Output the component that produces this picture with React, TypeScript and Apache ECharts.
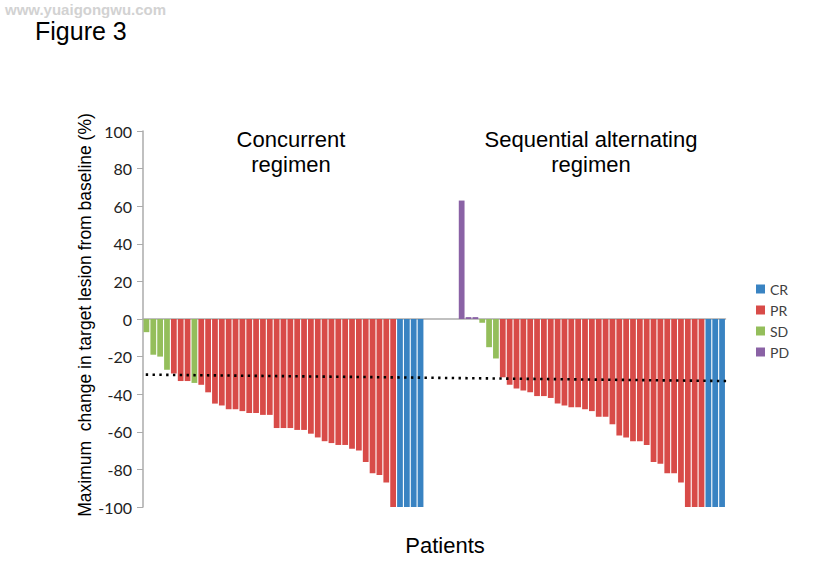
import React, { useEffect, useRef } from "react";
import * as echarts from "echarts";

// Concurrent regimen (left group)
const concurrentValues = [
  -7, -19, -20, -27, -29, -33, -33, -34, -35, -39, -45, -46, -48, -48, -49, -50, -50,
  -51, -51, -58, -58, -58, -59, -59, -61, -63, -65, -66, -67, -67, -69, -70, -76, -82,
  -83, -87, -100, -100, -100, -100, -100,
];
const concurrentResponse = [
  "SD", "SD", "SD", "SD", "PR", "PR", "PR", "SD", "PR", "PR", "PR", "PR", "PR", "PR", "PR", "PR", "PR",
  "PR", "PR", "PR", "PR", "PR", "PR", "PR", "PR", "PR", "PR", "PR", "PR", "PR", "PR", "PR", "PR", "PR",
  "PR", "PR", "PR", "CR", "CR", "CR", "CR",
];
// Sequential alternating regimen (right group)
const sequentialValues = [
  63, 1, 1, -2, -15, -21, -31, -35, -37, -38, -39, -41, -41, -42, -45, -46, -47, -47, -48,
  -49, -52, -52, -56, -62, -63, -65, -65, -67, -76, -77, -82, -82, -87, -100, -100, -100,
  -100, -100, -100,
];
const sequentialResponse = [
  "PD", "PD", "PD", "SD", "SD", "SD", "PR", "PR", "PR", "PR", "PR", "PR", "PR", "PR", "PR", "PR", "PR", "PR", "PR",
  "PR", "PR", "PR", "PR", "PR", "PR", "PR", "PR", "PR", "PR", "PR", "PR", "PR", "PR", "PR", "PR", "PR",
  "CR", "CR", "CR",
];
const gapSlots = 5;
const responseTypes = ["CR", "PR", "SD", "PD"];
const responseColors: Record<string, string> = {
  CR: "#3983C2",
  PR: "#D84B48",
  SD: "#94BE5B",
  PD: "#8A62A5",
};
// Linear trendline end points (patient slot, value)
const trendStart = [0.4, -29.6];
const trendEnd = [85.2, -33];
const yTicks = { min: -100, max: 100, interval: 20 };

export default function App() {
  const ref = useRef<HTMLDivElement>(null);
  useEffect(() => {
    if (!ref.current) return;
    const chart = echarts.init(ref.current, undefined, { renderer: "svg" });
    const allValues: (number | null)[] = [
      ...concurrentValues,
      ...Array(gapSlots).fill(null),
      ...sequentialValues,
    ];
    const allResp: (string | null)[] = [
      ...concurrentResponse,
      ...Array(gapSlots).fill(null),
      ...sequentialResponse,
    ];
    const categories = allValues.map((_, i) => String(i + 1));
    const barSeries = responseTypes.map((r) => ({
      name: r,
      type: "bar",
      stack: "all",
      barCategoryGap: "16%",
      itemStyle: { color: responseColors[r] },
      data: allValues.map((v, i) => (allResp[i] === r ? v : "-")),
      z: 2,
    }));
    const fontTitle = "Liberation Sans, Arial, sans-serif";
    chart.setOption({
      animation: false,
      grid: { left: 143, right: 113.5, top: 131, bottom: 69 },
      legend: {
        data: responseTypes,
        orient: "vertical",
        left: 751,
        top: 277,
        itemWidth: 9,
        itemHeight: 9,
        itemGap: 7,
        icon: "rect",
        textStyle: { fontSize: 14, lineHeight: 14, color: "#404040", fontFamily: "Lato, sans-serif" },
      },
      xAxis: [
        {
          type: "category",
          data: categories,
          axisLine: { show: true, onZero: true, lineStyle: { color: "#ABABAB", width: 1.5 } },
          axisTick: { show: false },
          axisLabel: { show: false },
          splitLine: { show: false },
        },
        { type: "value", min: 0, max: 85, show: false },
      ],
      yAxis: {
        type: "value",
        min: yTicks.min,
        max: yTicks.max,
        interval: yTicks.interval,
        axisLine: { show: true, lineStyle: { color: "#ABABAB", width: 1.5 } },
        axisTick: { show: true, inside: false, length: 6, lineStyle: { color: "#ABABAB" } },
        axisLabel: { fontSize: 16, color: "#222", margin: 11, fontFamily: "Lato, sans-serif" },
        splitLine: { show: false },
      },
      series: [
        ...barSeries,
        {
          type: "line",
          xAxisIndex: 1,
          data: [trendStart, trendEnd],
          symbol: "none",
          clip: false,
          z: 5,
          lineStyle: { color: "#000", width: 2.6, type: [2.4, 4.4], cap: "butt" },
        },
      ],
      graphic: [
        {
          type: "text",
          x: 5,
          y: 2,
          style: {
            text: "www.yuaigongwu.com",
            font: "bold 15px Liberation Sans, Arial, sans-serif",
            fill: "#D2D2D2",
            lineHeight: 15,
          },
        },
        {
          type: "text",
          x: 35,
          y: 18,
          style: { text: "Figure 3", font: `25px ${fontTitle}`, fill: "#000" },
        },
        {
          type: "text",
          x: 291,
          y: 127,
          style: {
            text: "Concurrent\nregimen",
            font: `22px ${fontTitle}`,
            fill: "#000",
            align: "center",
            lineHeight: 25,
          },
        },
        {
          type: "text",
          x: 591,
          y: 127,
          style: {
            text: "Sequential alternating\nregimen",
            font: `22px ${fontTitle}`,
            fill: "#000",
            align: "center",
            lineHeight: 25,
          },
        },
        {
          type: "text",
          x: 445,
          y: 545,
          style: {
            text: "Patients",
            font: `22px ${fontTitle}`,
            fill: "#000",
            align: "center",
            verticalAlign: "middle",
          },
        },
        {
          type: "text",
          x: 85,
          y: 315,
          rotation: Math.PI / 2,
          style: {
            text: "Maximum  change in target lesion from baseline (%)",
            font: `17.5px ${fontTitle}`,
            fill: "#000",
            align: "center",
            verticalAlign: "middle",
          },
        },
      ],
    });
    return () => chart.dispose();
  }, []);
  return (
    <div
      ref={ref}
      style={{ position: "absolute", left: 0, top: 0, width: 839, height: 576 }}
    />
  );
}
